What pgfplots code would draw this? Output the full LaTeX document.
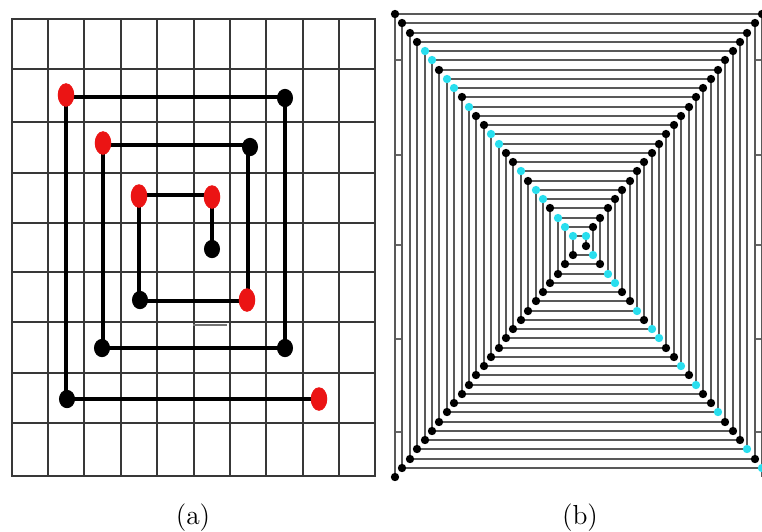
\documentclass[border=0pt]{standalone}
\usepackage{pgfplots}
\pgfplotsset{compat=1.18}
\definecolor{spred}{RGB}{235,20,20}
\definecolor{spcyan}{RGB}{40,222,238}
\begin{document}
\begin{tikzpicture}
\useasboundingbox (0pt,0pt) rectangle (304.8pt,-212.4pt);
% ---------------- panel (a) ----------------
\begin{axis}[
  at={(4.8pt,-190.4pt)}, anchor=south west,
  scale only axis, width=145.2pt, height=182.8pt,
  xmin=12, xmax=375, ymin=19, ymax=476, y dir=reverse,
  xtick={12,48,84,121,157,194,230,266,303,339,375},
  ytick={19,69,122,173,223,272,322,373,423,476},
  xticklabels={}, yticklabels={}, major tick length=0pt,
  grid=major, grid style={black!78, line width=0.8pt},
  axis line style={black!78, line width=0.9pt},
  clip=false]
\addplot[black!55, line width=0.9pt] coordinates {(193,325) (227,325)};
\addplot[black, line width=1.7pt] coordinates {
(212,249) (212,195) (139,195) (139,301) (248,301) (248,145) (103,145)
(103,348) (285,348) (285,97) (66,97) (66,399) (319,399)};
\addplot[only marks, mark=*, mark size=3.0pt, black,
  mark options={yscale=1.15}] coordinates {
(285,98) (250,147) (212,249) (140,300) (102,348) (285,348) (67,399)};
\addplot[only marks, mark=*, mark size=3.1pt, spred,
  mark options={yscale=1.45}] coordinates {
(66,95) (103,143) (139,196) (212,197) (247,300) (319,399)};
\end{axis}
% ---------------- panel (b) ----------------
\begin{axis}[
  at={(158pt,-190.8pt)}, anchor=south west,
  scale only axis, width=146.8pt, height=185.2pt,
  xmin=395, xmax=762, ymin=14, ymax=477, y dir=reverse,
  axis x line=none, axis y line=box,
  xtick=\empty, ytick={60,155,245,339,432}, yticklabels={},
  tick align=inside, major tick length=3.2pt,
  tick style={black!60, line width=0.5pt},
  axis line style={black!65, line width=0.5pt},
  clip=false]
\addplot[black!65, line width=0.55pt] coordinates {
(395,477) (395,14) (762,14) (762,468)
(402,468) (402,23) (755,23) (755,459)
(410,459) (410,33) (747,33) (747,449)
(417,449) (417,42) (740,42) (740,440)
(425,440) (425,51) (733,51) (733,431)
(432,431) (432,60) (725,60) (725,422)
(439,422) (439,70) (718,70) (718,412)
(447,412) (447,79) (711,79) (711,403)
(454,403) (454,88) (703,88) (703,394)
(462,394) (462,97) (696,97) (696,385)
(469,385) (469,107) (689,107) (689,375)
(476,375) (476,116) (681,116) (681,366)
(484,366) (484,125) (674,125) (674,357)
(491,357) (491,134) (666,134) (666,348)
(499,348) (499,144) (659,144) (659,338)
(506,338) (506,153) (652,153) (652,329)
(513,329) (513,162) (644,162) (644,320)
(521,320) (521,171) (637,171) (637,311)
(528,311) (528,181) (630,181) (630,301)
(536,301) (536,190) (622,190) (622,292)
(543,292) (543,199) (615,199) (615,283)
(550,283) (550,208) (608,208) (608,274)
(558,274) (558,218) (600,218) (600,264)
(565,264) (565,227) (593,227) (593,255)
(573,255) (573,236) (586,236) (586,246)};
% black corner dots
\addplot[only marks, mark=*, mark size=1.45pt, black] coordinates {
(395,14) (402,23) (410,33) (417,42) (439,70) (462,97) (476,116) (484,125)
(506,153) (513,162) (528,181) (550,208)
(762,14) (755,23) (747,33) (740,42) (733,51) (725,60) (718,70) (711,79)
(703,88) (696,97) (689,107) (681,116) (674,125) (666,134) (659,144) (652,153)
(644,162) (637,171) (630,181) (622,190) (615,199) (608,208) (600,218) (593,227)
(755,459) (740,440) (733,431) (725,422) (711,403) (703,394) (689,375) (674,357)
(666,348) (644,320) (630,301) (622,292) (600,264) (586,246)
(395,477) (402,468) (410,459) (417,449) (425,440) (432,431) (439,422) (447,412)
(454,403) (462,394) (469,385) (476,375) (484,366) (491,357) (499,348) (506,338)
(513,329) (521,320) (528,311) (536,301) (543,292) (550,283) (558,274) (565,264)
(573,255)};
% cyan corner dots
\addplot[only marks, mark=*, mark size=1.45pt, spcyan] coordinates {
(425,51) (432,60) (447,79) (454,88) (469,107) (491,134) (499,144) (521,171)
(536,190) (543,199) (558,218) (565,227) (573,236) (586,236)
(762,468) (747,449) (718,412) (696,385) (681,366) (659,338) (652,329) (637,311)
(615,283) (608,274) (593,255)};
\end{axis}
% ---------------- captions ----------------
\node[font=\fontsize{11}{12}\selectfont] at (77.2pt,-207pt) {(a)};
\node[font=\fontsize{11}{12}\selectfont] at (232pt,-207pt) {(b)};
\end{tikzpicture}
\end{document}
